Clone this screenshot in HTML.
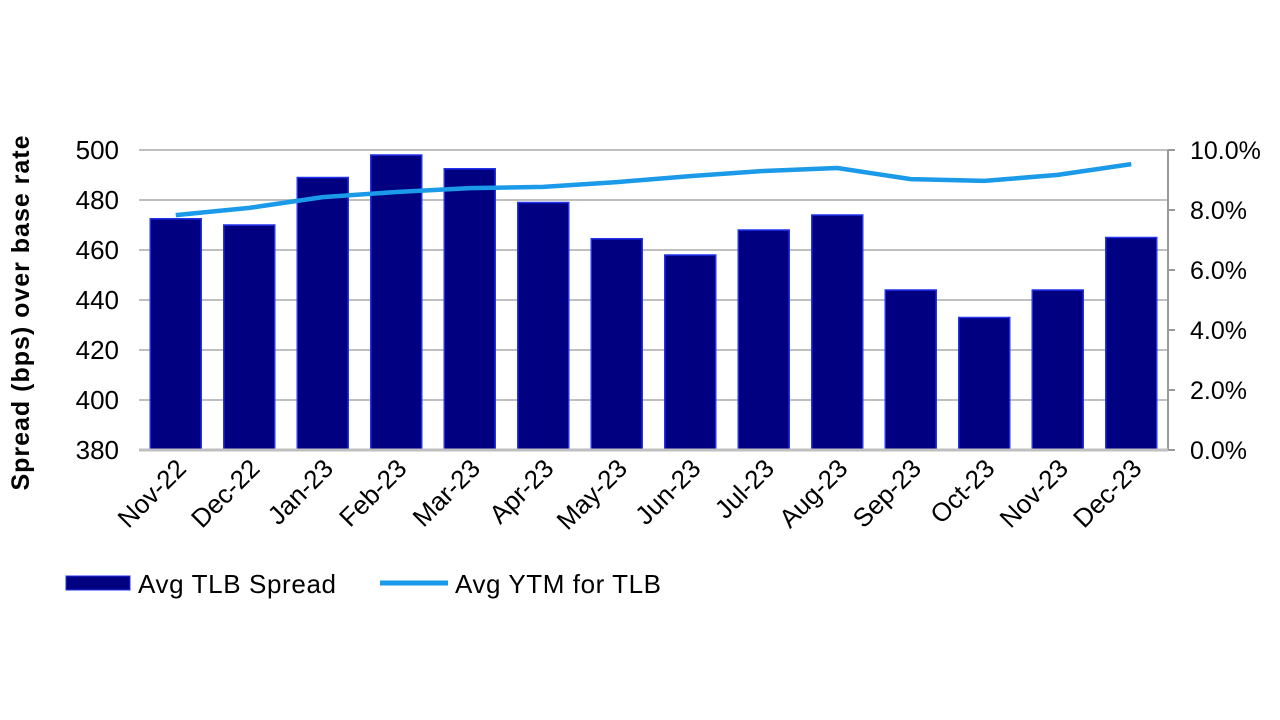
<!DOCTYPE html>
<html><head><style>body{margin:0;background:#fff}svg{display:block}</style></head><body>
<svg width="1280" height="720" xmlns="http://www.w3.org/2000/svg" font-family="Liberation Sans, Arial, sans-serif">
<g stroke="#bfbfbf" stroke-width="2">
<line x1="139" x2="1168" y1="150" y2="150"/><line x1="139" x2="1168" y1="200" y2="200"/><line x1="139" x2="1168" y1="250" y2="250"/><line x1="139" x2="1168" y1="300" y2="300"/><line x1="139" x2="1168" y1="350" y2="350"/><line x1="139" x2="1168" y1="400" y2="400"/>
</g>
<line x1="1168" x2="1168" y1="150" y2="450" stroke="#999" stroke-width="2"/>
<g stroke="#999" stroke-width="2"><line x1="1168" x2="1175" y1="150" y2="150"/><line x1="1168" x2="1175" y1="210" y2="210"/><line x1="1168" x2="1175" y1="270" y2="270"/><line x1="1168" x2="1175" y1="330" y2="330"/><line x1="1168" x2="1175" y1="390" y2="390"/><line x1="1168" x2="1175" y1="450" y2="450"/></g>
<g fill="#000080" stroke="#2233ee" stroke-width="1.5" id="bars"></g>
<line x1="139" x2="1168" y1="450" y2="450" stroke="#bfbfbf" stroke-width="3"/>
<polyline id="ln" fill="none" stroke="#1a9ae8" stroke-width="4.5" stroke-linejoin="round"/>
<g font-size="26" fill="#000" text-anchor="end">
<text x="119" y="159">500</text><text x="119" y="209">480</text><text x="119" y="259">460</text><text x="119" y="309">440</text><text x="119" y="359">420</text><text x="119" y="409">400</text><text x="119" y="459">380</text>
</g>
<g font-size="25" fill="#000">
<text x="1190" y="159">10.0%</text><text x="1190" y="219">8.0%</text><text x="1190" y="279">6.0%</text><text x="1190" y="339">4.0%</text><text x="1190" y="399">2.0%</text><text x="1190" y="459">0.0%</text>
</g>
<text transform="translate(29,313) rotate(-90)" font-size="25" font-weight="bold" text-anchor="middle" textLength="355">Spread (bps) over base rate</text>
<g id="xl" font-size="26" text-anchor="end"></g>
<rect x="66" y="576" width="64" height="14" fill="#000080" stroke="#2233ee"/>
<text x="138" y="593" font-size="26" textLength="198">Avg TLB Spread</text>
<line x1="380" x2="448" y1="583" y2="583" stroke="#1a9ae8" stroke-width="5"/>
<text x="455" y="593" font-size="26" textLength="206">Avg YTM for TLB</text>
<script>
var v=[472.5,470,489,498,492.5,479,464.5,458,468,474,444,433,444,465];
var y=[7.83,8.07,8.43,8.6,8.73,8.77,8.93,9.13,9.3,9.4,9.03,8.97,9.17,9.53];
var L=["Nov-22","Dec-22","Jan-23","Feb-23","Mar-23","Apr-23","May-23","Jun-23","Jul-23","Aug-23","Sep-23","Oct-23","Nov-23","Dec-23"];
var ns="http://www.w3.org/2000/svg",b=document.getElementById("bars"),xl=document.getElementById("xl"),pts=[];
for(var i=0;i<14;i++){var c=139+36.75+73.5*i;var t=450-(v[i]-380)*2.5;
var r=document.createElementNS(ns,"rect");r.setAttribute("x",c-25.5);r.setAttribute("y",t);r.setAttribute("width",51);r.setAttribute("height",450-t);b.appendChild(r);
pts.push(c+","+(450-y[i]*30));
var tx=document.createElementNS(ns,"text");tx.setAttribute("transform","translate("+(c+12)+",470) rotate(-45)");tx.textContent=L[i];xl.appendChild(tx);}
document.getElementById("ln").setAttribute("points",pts.join(" "));
</script>
</svg>
</body></html>
